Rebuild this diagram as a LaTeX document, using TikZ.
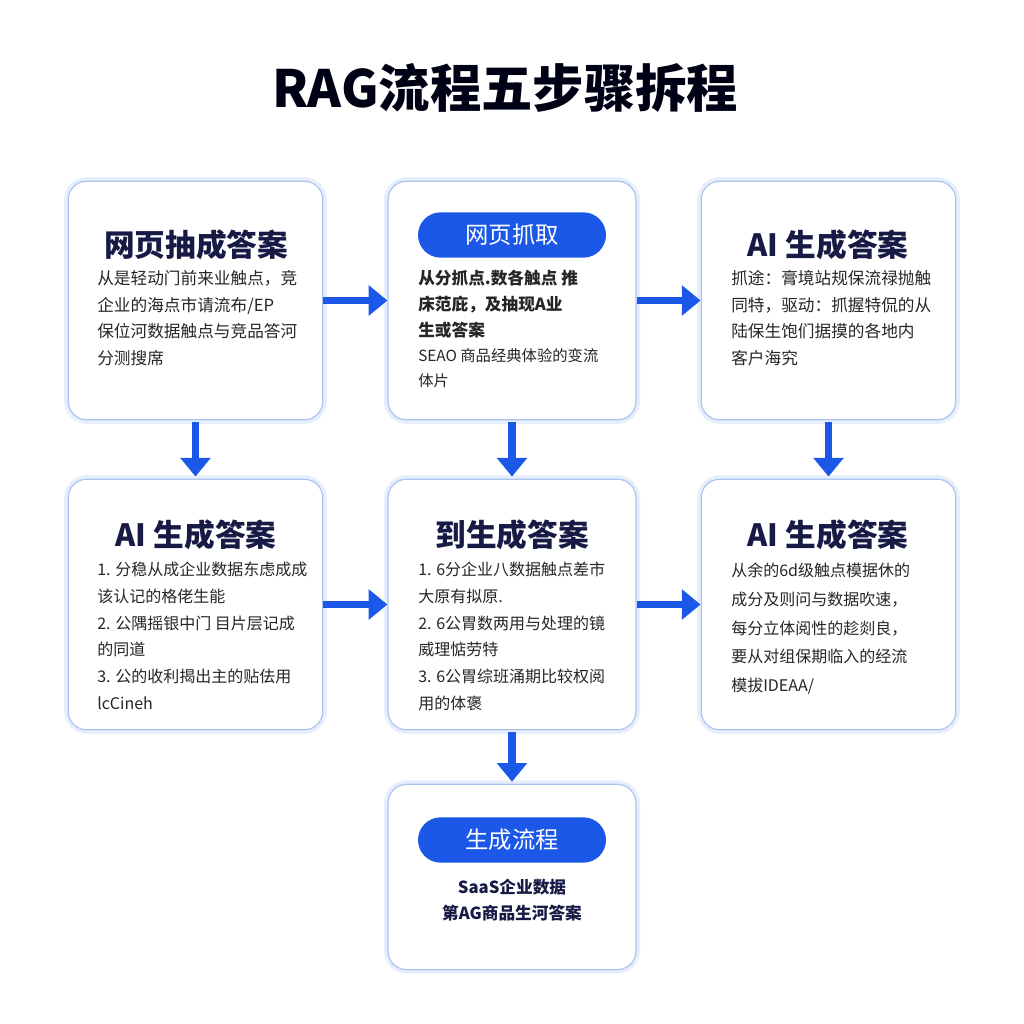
\documentclass[tikz,border=0pt]{standalone}
\usepackage{fontspec}
\setmainfont{Noto Sans CJK SC}
\usepackage{tikz}
\usetikzlibrary{positioning, arrows.meta, calc}
\definecolor{navyink}{RGB}{22,26,68}
\definecolor{flowblue}{RGB}{28,88,232}
\definecolor{boxedge}{RGB}{172,196,240}
\definecolor{boxglow}{RGB}{232,239,252}

\tikzset{
	card/.style={draw=boxedge, line width=0.9pt, fill=white, rounded corners=14pt,
		preaction={draw=boxglow, line width=6pt}},
	head/.style={font=\fontsize{23}{26}\selectfont\bfseries, text=navyink},
	body/.style={font=\fontsize{12.5}{20}\selectfont, text=black!85, align=left, anchor=north west, inner sep=0pt},
	pill/.style={fill=flowblue, rounded corners=17pt, minimum width=141pt, minimum height=34pt,
		text=white, font=\fontsize{17.5}{20}\selectfont},
	flow/.style={draw=flowblue, line width=5.5pt, -{Triangle[length=14pt,width=22pt]}}
}

\begin{document}
\begin{tikzpicture}[x=0.75pt, y=-0.75pt]
			\useasboundingbox (0,0) rectangle (1024,1024);
			%% title
			\node[font=\fontsize{38.5}{42}\selectfont\bfseries, text=black!92!blue] (title) at (505,88) {RAG流程五步骤拆程};
			
			%% cards
			\node[card, minimum width=191pt, minimum height=179pt] (c11) at (195.5,300.5) {};
			\node[card, minimum width=186pt, minimum height=179pt] (c12) at (512,300.5) {};
			\node[card, minimum width=191pt, minimum height=179pt] (c13) at (828.5,300.5) {};
			\node[card, minimum width=191pt, minimum height=188pt] (c21) at (195.5,604.5) {};
			\node[card, minimum width=186pt, minimum height=188pt] (c22) at (512,604.5) {};
			\node[card, minimum width=191pt, minimum height=188pt] (c23) at (828.5,604.5) {};
			\node[card, minimum width=186pt, minimum height=139pt] (c32) at (512,877) {};
			
			%% row 1
			\node[head] (h11) at (196,245) {网页抽成答案};
			\node[body] (t11) at (97,270) {从是轻动门前来业触点，竞\\企业的海点市请流布/EP\\保位河数据触点与竞品答河\\分测搜席};
			\node[pill] (p12) at (512,235) {网页抓取};
			\node[body, font=\fontsize{12.5}{19.5}\selectfont\bfseries] (s12) at (418,270) {从分抓点.数各触点 推\\床范庇，及抽现A业\\生或答案};
			\node[body, font=\fontsize{11.5}{19}\selectfont] (t12) at (418,348) {SEAO 商品经典体验的变流\\体片};
			\node[head] (h13) at (828,245) {AI 生成答案};
			\node[body] (t13) at (731,270) {抓途：膏境站规保流禄抛触\\同特，驱动：抓握特侃的从\\陆保生饱们据摸的各地内\\客户海究};
			
			%% row 2
			\node[head] (h21) at (196,535) {AI 生成答案};
			\node[body, font=\fontsize{12}{20}\selectfont] (t21) at (97,562) {1. 分稳从成企业数据东虑成成\\该认记的格佬生能\\2. 公隅摇银中门 目片层记成\\的同道\\3. 公的收利揭出主的贴佉用\\lcCineh};
			\node[head] (h22) at (512,535) {到生成答案};
			\node[body, font=\fontsize{12}{20}\selectfont] (t22) at (418,562) {1. 6分企业八数据触点差市\\大原有拟原.\\2. 6公胃数两用与处理的镜\\威理惦劳特\\3. 6公胃综班涌期比较权阅\\用的体褒};
			\node[head] (h23) at (828,535) {AI 生成答案};
			\node[body, font=\fontsize{12}{21.5}\selectfont] (t23) at (731,563) {从余的6d级触点模据休的\\成分及则问与数据吹速，\\每分立体阅性的趁剡良，\\要从对组保期临入的经流\\模拔IDEAA/};
			
			%% row 3
			\node[pill] (p32) at (512,840) {生成流程};
			\node[font=\fontsize{12.5}{19.5}\selectfont\bfseries, text=navyink, align=center] (t32) at (512,900) {SaaS企业数据\\第AG商品生河答案};
			
			%% connectors
			\draw[flow] (c11.east) -- (c12.west);
			\draw[flow] (c12.east) -- (c13.west);
			\draw[flow] (c21.east) -- (c22.west);
			\draw[flow] (c22.east) -- (c23.west);
			\draw[flow] ($(c11.south)+(0,2)$) -- ($(c21.north)+(0,-2)$);
			\draw[flow] ($(c12.south)+(0,2)$) -- ($(c22.north)+(0,-2)$);
			\draw[flow] ($(c13.south)+(0,2)$) -- ($(c23.north)+(0,-2)$);
			\draw[flow] ($(c22.south)+(0,2)$) -- ($(c32.north)+(0,-2)$);
\end{tikzpicture}
\end{document}
